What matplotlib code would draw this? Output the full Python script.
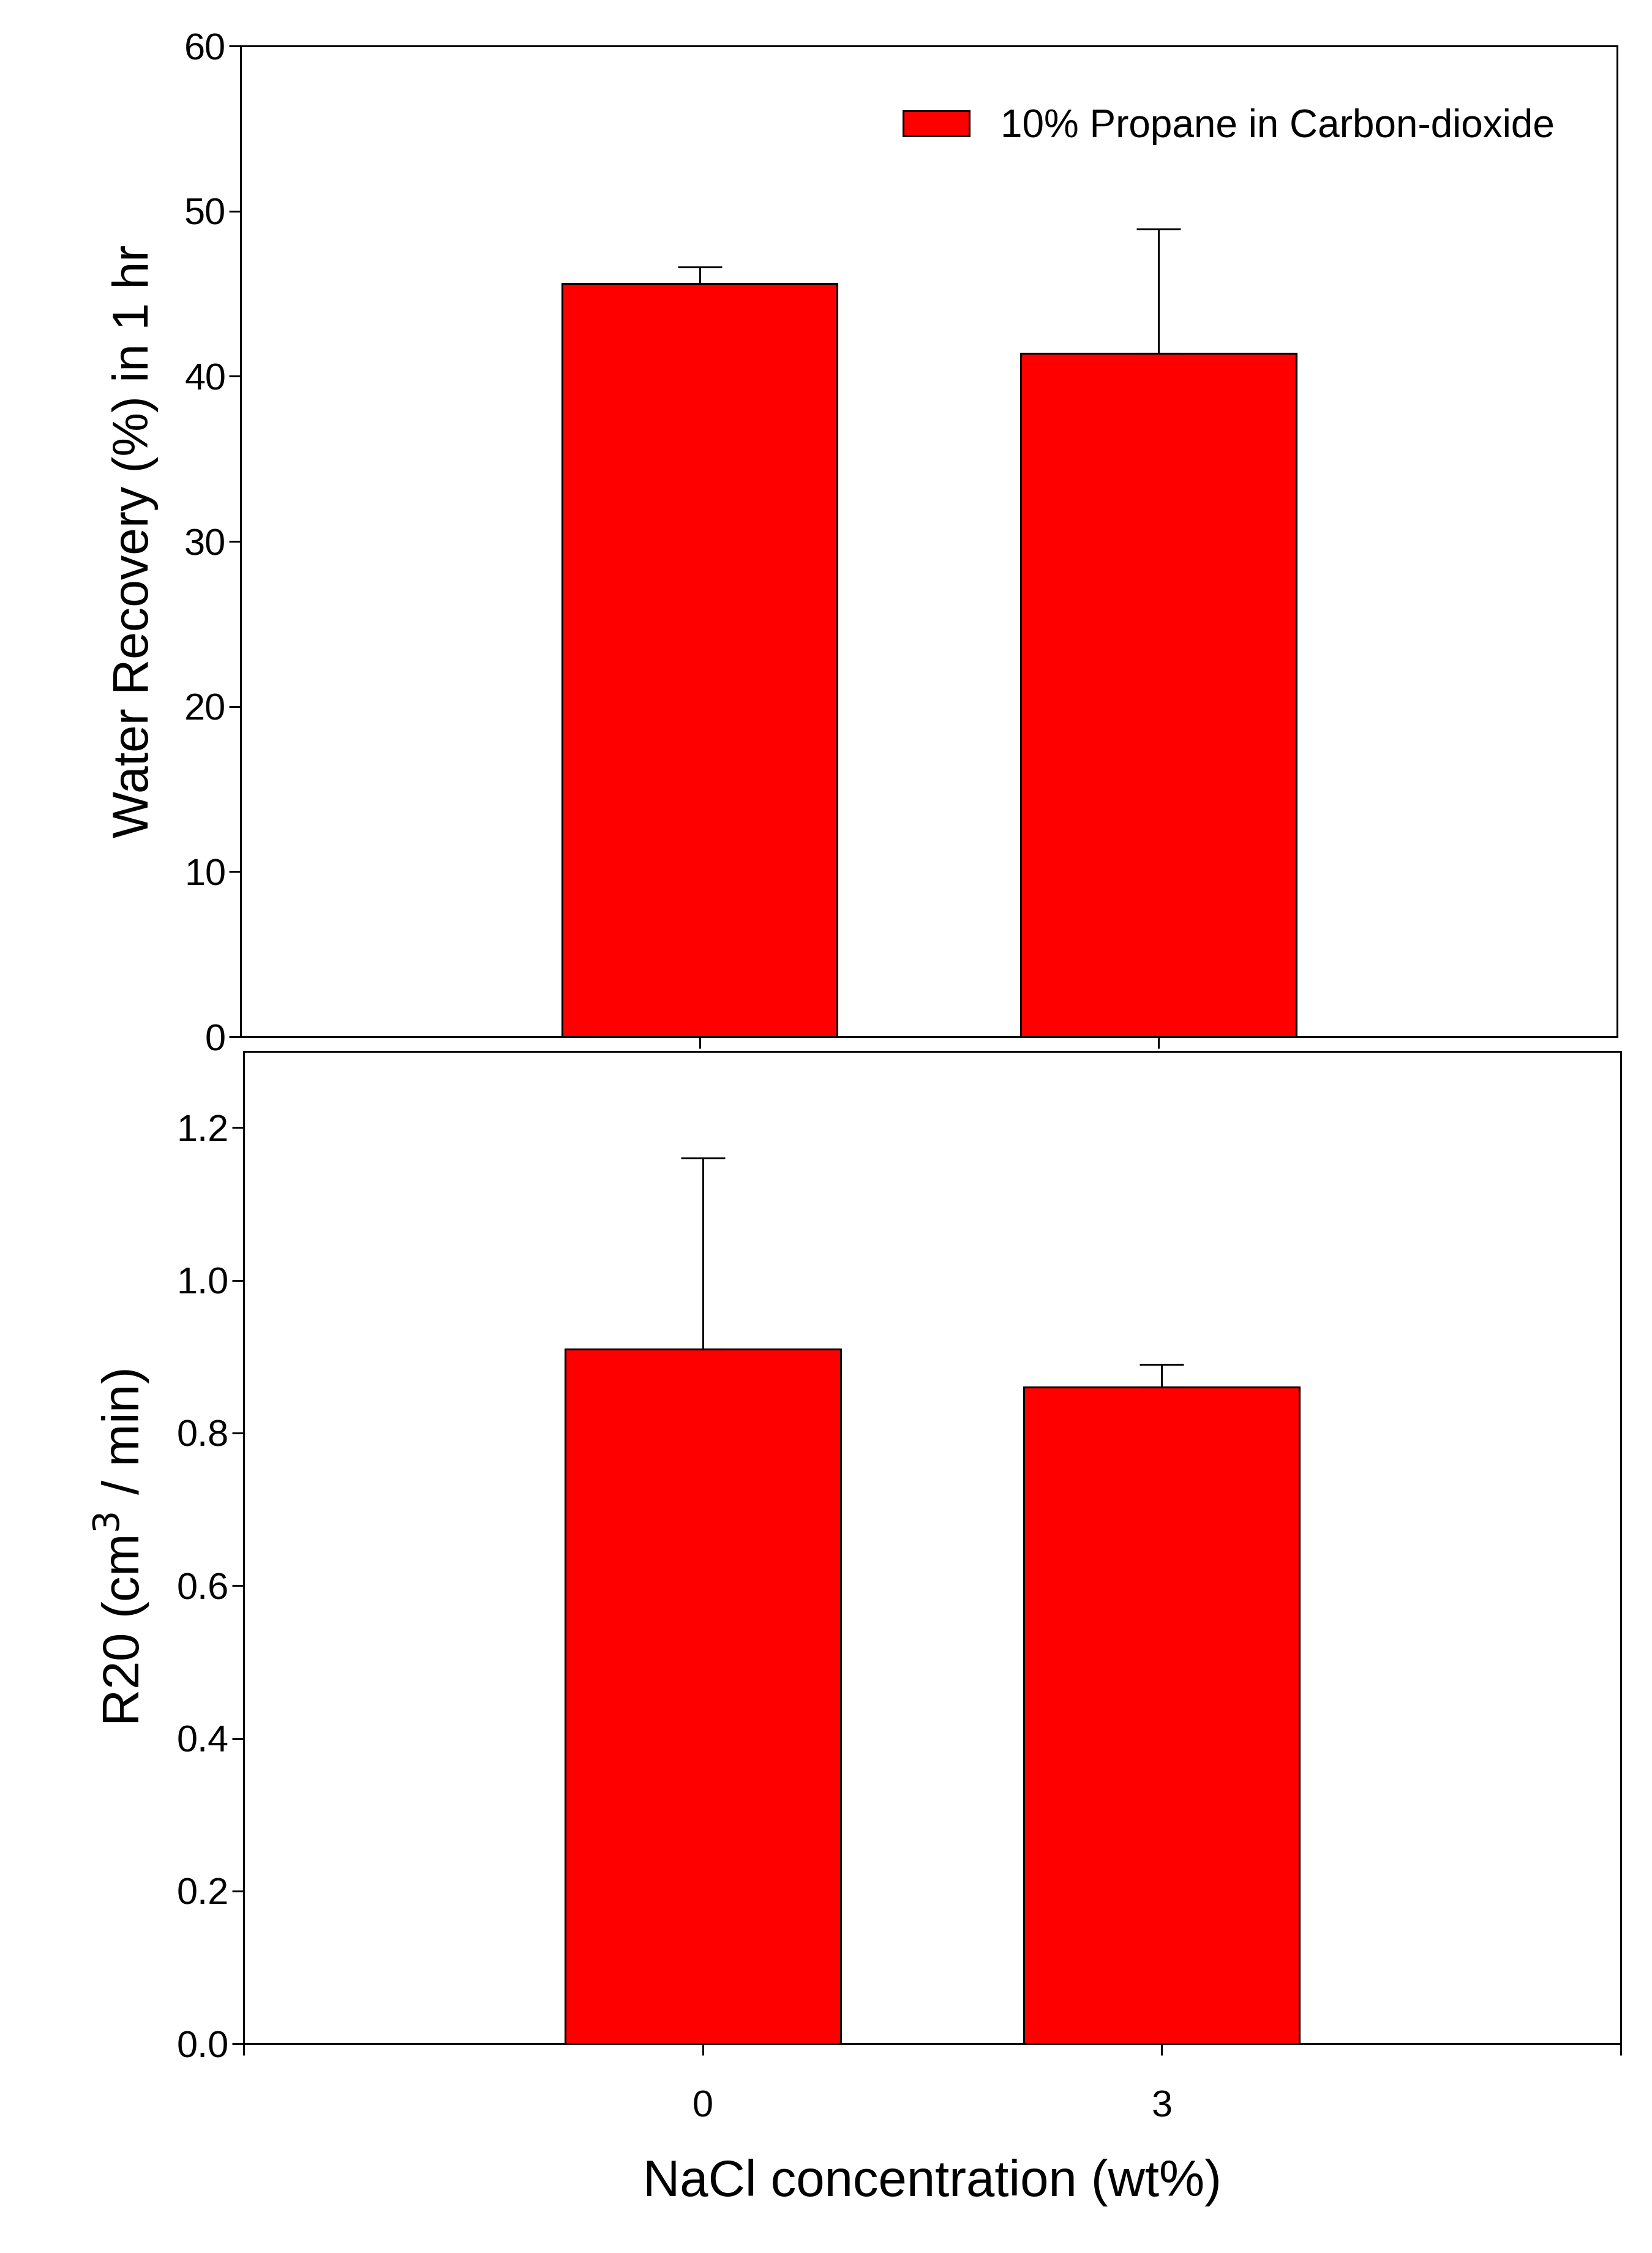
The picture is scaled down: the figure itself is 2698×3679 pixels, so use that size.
import matplotlib
matplotlib.use("Agg")
import matplotlib.pyplot as plt

categories = ["0", "3"]
recovery = [45.6, 41.4]
recovery_err = [1.0, 7.5]
r20 = [0.91, 0.86]
r20_err = [0.25, 0.03]

plt.rcParams["font.family"] = "Liberation Sans"
fig = plt.figure(figsize=(26.98, 36.79), dpi=100)
lw = 2.2
ax1 = fig.add_axes([0.1458, 0.5398, 0.979 - 0.1458, 0.9796 - 0.5398])
ax2 = fig.add_axes([0.1476, 0.0929, 0.981 - 0.1476, 0.5334 - 0.0929])
x = list(range(len(categories)))
ekw = dict(elinewidth=lw, capthick=lw, ecolor="black")

def err(vals, e):
    return [[0]*len(vals), e]

ax1.bar(x, recovery, width=0.6, color="#ff0000", edgecolor="black", linewidth=lw,
        yerr=err(recovery, recovery_err), capsize=26, error_kw=ekw,
        label="10% Propane in Carbon-dioxide", zorder=2)
ax2.bar(x, r20, width=0.6, color="#ff0000", edgecolor="black", linewidth=lw,
        yerr=err(r20, r20_err), capsize=26, error_kw=ekw, zorder=2)

for ax in (ax1, ax2):
    ax.set_xlim(-1, 2)
    for s in ax.spines.values():
        s.set_linewidth(lw)
    ax.tick_params(width=lw, length=14, labelsize=44, direction="out")
ax1.set_ylim(0, 60)
ax1.set_yticks(range(0, 61, 10))
ax1.set_xticks(x)
ax1.set_xticklabels([])
ax1.set_ylabel("Water Recovery (%) in 1 hr", fontsize=58, labelpad=30)
ax2.set_ylim(0, 1.3)
ax2.set_yticks([0, 0.2, 0.4, 0.6, 0.8, 1.0, 1.2])
ax2.set_yticklabels(["0.0", "0.2", "0.4", "0.6", "0.8", "1.0", "1.2"])
ax2.set_xticks([-1, 0, 1, 2])
ax2.set_xticklabels([""] + categories + [""])
ax2.tick_params(axis="x", pad=40)
ax2.set_ylabel("R20 (cm$^3$ / min)", fontsize=60, labelpad=30)
ax2.set_xlabel("NaCl concentration (wt%)", fontsize=60, labelpad=40)
ax1.legend(loc="upper right", fontsize=46, frameon=False, handlelength=1.7,
           handleheight=0.6, borderaxespad=1.2)
fig.savefig("out.png", dpi=100)
